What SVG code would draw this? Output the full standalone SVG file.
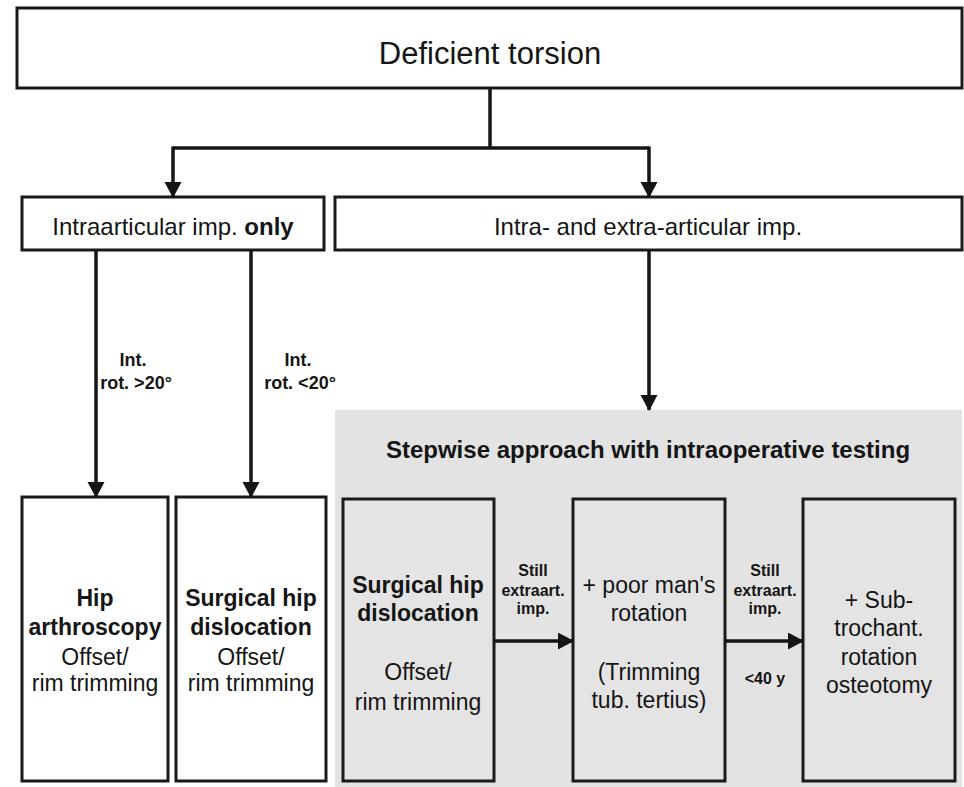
<svg xmlns="http://www.w3.org/2000/svg" width="964" height="787" viewBox="0 0 964 787">
<defs>
<marker id="ah" markerUnits="userSpaceOnUse" markerWidth="16" markerHeight="18" refX="15" refY="8.5" orient="auto">
<path d="M0,0 L16,8.5 L0,17 z" fill="#151515"/>
</marker>
<style>
.box{fill:#fff;stroke:#1a1a1a;stroke-width:3}
.gbox{fill:#e4e4e4;stroke:#1a1a1a;stroke-width:3}
.t{font-family:"Liberation Sans",Arial,Helvetica,sans-serif;fill:#151515;text-anchor:middle}
.b{font-weight:bold}
.ln{fill:none;stroke:#151515;stroke-width:3.5}
.ar{fill:none;stroke:#151515;stroke-width:3.5;marker-end:url(#ah)}
</style>
</defs>
<rect width="964" height="787" fill="#fff"/>

<g id="stepwise-region">
<rect x="335" y="410" width="627" height="377" fill="#e3e3e3"/>
<text class="t b" x="648" y="458" font-size="24">Stepwise approach with intraoperative testing</text>
</g>

<g id="deficient-torsion">
<rect class="box" x="17" y="8" width="945" height="80"/>
<text class="t" x="490" y="64" font-size="31">Deficient torsion</text>
</g>

<g id="intra-only">
<rect class="box" x="22" y="197" width="302" height="53"/>
<text class="t" x="173" y="235" font-size="24">Intraarticular imp. <tspan class="b">only</tspan></text>
</g>

<g id="intra-extra">
<rect class="box" x="335" y="197" width="627" height="53"/>
<text class="t" x="648" y="235" font-size="24">Intra- and extra-articular imp.</text>
</g>

<g id="hip-arthroscopy">
<rect class="box" x="22" y="497" width="146" height="284"/>
<text class="t" font-size="23"><tspan class="b" x="95" y="606">Hip</tspan><tspan class="b" x="95" y="635">arthroscopy</tspan><tspan x="95" y="665">Offset/</tspan><tspan x="95" y="691">rim trimming</tspan></text>
</g>

<g id="surgical-hip-dislocation-1">
<rect class="box" x="176" y="497" width="150" height="284"/>
<text class="t" font-size="23"><tspan class="b" x="251" y="606">Surgical hip</tspan><tspan class="b" x="251" y="635">dislocation</tspan><tspan x="251" y="665">Offset/</tspan><tspan x="251" y="691">rim trimming</tspan></text>
</g>

<g id="surgical-hip-dislocation-2">
<rect class="gbox" x="343" y="499" width="151" height="282"/>
<text class="t" font-size="23"><tspan class="b" x="418" y="593">Surgical hip</tspan><tspan class="b" x="418" y="621">dislocation</tspan><tspan x="418" y="680">Offset/</tspan><tspan x="418" y="710">rim trimming</tspan></text>
</g>

<g id="poor-mans-rotation">
<rect class="gbox" x="573" y="499" width="152" height="282"/>
<text class="t" font-size="23"><tspan x="649" y="593">+ poor man's</tspan><tspan x="649" y="621">rotation</tspan><tspan x="649" y="680">(Trimming</tspan><tspan x="649" y="708">tub. tertius)</tspan></text>
</g>

<g id="rotation-osteotomy">
<rect class="gbox" x="803" y="499" width="152" height="282"/>
<text class="t" font-size="23"><tspan x="879" y="608">+ Sub-</tspan><tspan x="879" y="636">trochant.</tspan><tspan x="879" y="665">rotation</tspan><tspan x="879" y="693">osteotomy</tspan></text>
</g>

<g id="connectors">
<polyline class="ln" points="490,88 490,148"/>
<polyline class="ln" points="173,148 649,148"/>
<line class="ar" x1="173" y1="146.5" x2="173" y2="197"/>
<line class="ar" x1="649" y1="146.5" x2="649" y2="197"/>
<line class="ar" x1="96" y1="250" x2="96" y2="497"/>
<line class="ar" x1="251" y1="250" x2="251" y2="497"/>
<line class="ar" x1="649" y1="250" x2="649" y2="410"/>
<line class="ar" x1="494" y1="641" x2="573" y2="641"/>
<line class="ar" x1="725" y1="641" x2="803" y2="641"/>
<text class="t b" font-size="18"><tspan x="133" y="366">Int.</tspan><tspan x="136" y="389">rot. &gt;20°</tspan></text>
<text class="t b" font-size="18"><tspan x="298" y="366">Int.</tspan><tspan x="300" y="389">rot. &lt;20°</tspan></text>
<text class="t b" font-size="16"><tspan x="533" y="576">Still</tspan><tspan x="533" y="596">extraart.</tspan><tspan x="533" y="614">imp.</tspan></text>
<text class="t b" font-size="16"><tspan x="765" y="576">Still</tspan><tspan x="765" y="596">extraart.</tspan><tspan x="765" y="614">imp.</tspan><tspan x="765" y="684">&lt;40 y</tspan></text>
</g>
</svg>
